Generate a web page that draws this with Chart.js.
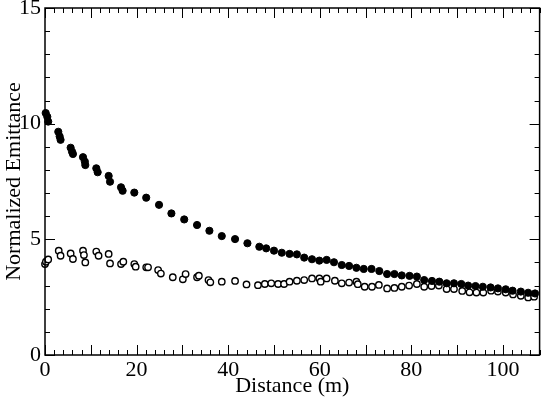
<!DOCTYPE html>
<html>
<head>
<meta charset="utf-8">
<script src="https://cdn.jsdelivr.net/npm/chart.js@4"></script>
<style>
  html, body { margin: 0; padding: 0; background: #fff; }
  #wrap { width: 545px; height: 399px; }
</style>
</head>
<body>
<div id="wrap"><canvas id="myChart" width="545" height="399"></canvas></div>
<script>
// filled circles (upper curve)
const filledX = [0.15, 0.5, 0.7, 2.9, 3.2, 3.4, 5.6, 5.9, 6.1, 8.3, 8.7, 8.8, 11.2, 11.5, 13.9, 14.2, 16.6, 16.95,
  19.5, 22.1, 24.9, 27.6, 30.4, 33.2, 35.9, 38.6, 41.5, 44.2, 46.8, 48.3, 50.0, 51.7, 53.4, 55.0, 56.6, 58.3,
  59.9, 61.5, 63.1, 64.8, 66.4, 68.0, 69.6, 71.3, 73.0, 74.7, 76.3, 77.9, 79.6, 81.2, 82.8, 84.5, 86.1, 87.7,
  89.3, 90.9, 92.4, 94.0, 95.6, 97.3, 98.9, 100.6, 102.1, 103.9, 105.5, 107.0];
const filledY = [10.46, 10.30, 10.09, 9.65, 9.45, 9.30, 8.96, 8.79, 8.69, 8.55, 8.36, 8.21, 8.07, 7.90, 7.74, 7.49, 7.25, 7.10,
  7.02, 6.80, 6.49, 6.12, 5.86, 5.62, 5.37, 5.14, 5.01, 4.83, 4.68, 4.61, 4.51, 4.42, 4.37, 4.35, 4.21, 4.14,
  4.08, 4.11, 4.01, 3.89, 3.85, 3.77, 3.72, 3.72, 3.63, 3.50, 3.50, 3.44, 3.42, 3.39, 3.24, 3.20, 3.17, 3.10,
  3.10, 3.07, 3.00, 2.98, 2.95, 2.92, 2.88, 2.84, 2.78, 2.74, 2.69, 2.66];

// open circles (lower curve)
const openX = [0.0, 0.2, 0.7, 3.0, 3.4, 5.6, 6.1, 8.3, 8.5, 8.8, 11.2, 11.7, 13.9, 14.2, 16.6, 17.1, 19.5, 19.8,
  22.1, 22.5, 24.7, 25.3, 27.9, 30.1, 30.7, 33.2, 33.6, 35.7, 36.1, 38.6, 41.5, 44.0, 46.5, 48.0, 49.4, 50.9,
  52.2, 53.4, 55.0, 56.6, 58.3, 59.9, 60.2, 61.5, 63.3, 64.8, 66.4, 68.0, 68.3, 69.8, 71.4, 72.9, 74.7, 76.3,
  77.9, 79.5, 81.2, 82.8, 84.4, 86.0, 87.7, 89.3, 91.1, 92.7, 94.2, 95.7, 97.4, 98.9, 100.6, 102.2, 103.9,
  105.5, 106.8];
const openY = [3.93, 4.03, 4.13, 4.51, 4.29, 4.39, 4.15, 4.51, 4.32, 4.00, 4.47, 4.29, 4.37, 3.96, 3.93, 4.03, 3.93, 3.82,
  3.79, 3.79, 3.67, 3.52, 3.36, 3.27, 3.50, 3.36, 3.43, 3.24, 3.14, 3.17, 3.20, 3.05, 3.02, 3.07, 3.10, 3.07,
  3.07, 3.17, 3.21, 3.24, 3.31, 3.31, 3.17, 3.31, 3.21, 3.10, 3.13, 3.17, 3.06, 2.95, 2.95, 3.03, 2.88, 2.90,
  2.95, 3.00, 3.07, 2.95, 2.98, 3.00, 2.85, 2.85, 2.77, 2.71, 2.70, 2.70, 2.78, 2.74, 2.70, 2.62, 2.56,
  2.49, 2.52];

const xLabelTicks = [0, 20, 40, 60, 80, 100];
const yLabelTicks = [0, 5, 10, 15];
const xMajor = 10, xMinor = 2, xMax = 108;
const yMajor = 5, yMinor = 1, yMax = 15;

function pts(xs, ys) {
  return xs.map((x, i) => ({x: x, y: ys[i]}));
}

// inward ticks on all four sides, like the original plot
const frameTicks = {
  id: 'frameTicks',
  afterDraw(chart) {
    const ctx = chart.ctx;
    const a = chart.chartArea;
    const xs = chart.scales.x, ys = chart.scales.y;
    ctx.save();
    ctx.strokeStyle = '#000';
    ctx.lineWidth = 1;
    for (let v = 0; v <= xMax + 1e-9; v += xMinor) {
      const len = (Math.abs(v % xMajor) < 1e-9) ? 10 : 5;
      const px = Math.round(xs.getPixelForValue(v)) + 0.5;
      ctx.beginPath();
      ctx.moveTo(px, a.bottom); ctx.lineTo(px, a.bottom - len);
      ctx.moveTo(px, a.top); ctx.lineTo(px, a.top + len);
      ctx.stroke();
    }
    for (let v = 0; v <= yMax + 1e-9; v += yMinor) {
      const len = (Math.abs(v % yMajor) < 1e-9) ? 10 : 5;
      const py = Math.round(ys.getPixelForValue(v)) + 0.5;
      ctx.beginPath();
      ctx.moveTo(a.left, py); ctx.lineTo(a.left + len, py);
      ctx.moveTo(a.right, py); ctx.lineTo(a.right - len, py);
      ctx.stroke();
    }
    ctx.lineWidth = 1.5;
    ctx.strokeRect(a.left, a.top, a.right - a.left, a.bottom - a.top);
    ctx.restore();
  }
};

const serif = "'Liberation Serif', 'DejaVu Serif', serif";

var ctx = document.getElementById('myChart').getContext('2d');
var chart = new Chart(ctx, {
  type: 'scatter',
  data: {
    datasets: [{
      label: 'filled',
      data: pts(filledX, filledY),
      pointStyle: 'circle',
      pointRadius: 3.6,
      backgroundColor: '#000',
      borderColor: '#000',
      borderWidth: 1,
      clip: false
    }, {
      label: 'open',
      data: pts(openX, openY),
      pointStyle: 'circle',
      pointRadius: 3.2,
      backgroundColor: '#fff',
      borderColor: '#000',
      borderWidth: 1.4,
      clip: false
    }]
  },
  options: {
    responsive: false,
    animation: false,
    layout: { padding: { left: 0, right: 3, top: 8, bottom: 0 } },
    plugins: {
      legend: { display: false },
      tooltip: { enabled: false }
    },
    scales: {
      x: {
        type: 'linear',
        min: 0,
        max: xMax,
        border: { display: false },
        grid: { display: false, drawTicks: false },
        afterBuildTicks: s => { s.ticks = xLabelTicks.map(v => ({value: v})); },
        afterFit: s => { s.height = 44; s.paddingLeft = 0; s.paddingRight = 0; },
        ticks: {
          color: '#000',
          padding: 2,
          maxRotation: 0,
          autoSkip: false,
          font: { family: serif, size: 22 }
        },
        title: {
          display: true,
          text: 'Distance (m)',
          color: '#000',
          padding: { top: 0, bottom: 0 },
          font: { family: serif, size: 22 }
        }
      },
      y: {
        type: 'linear',
        min: 0,
        max: yMax,
        border: { display: false },
        grid: { display: false, drawTicks: false },
        afterBuildTicks: s => { s.ticks = yLabelTicks.map(v => ({value: v})); },
        afterFit: s => { s.width = 45; s.paddingTop = 0; s.paddingBottom = 0; },
        ticks: {
          color: '#000',
          padding: 4,
          autoSkip: false,
          font: { family: serif, size: 22 }
        },
        title: {
          display: true,
          text: 'Normalized Emittance',
          color: '#000',
          padding: { top: 1, bottom: 0 },
          font: { family: serif, size: 22 }
        }
      }
    }
  },
  plugins: [frameTicks]
});
</script>
</body>
</html>
